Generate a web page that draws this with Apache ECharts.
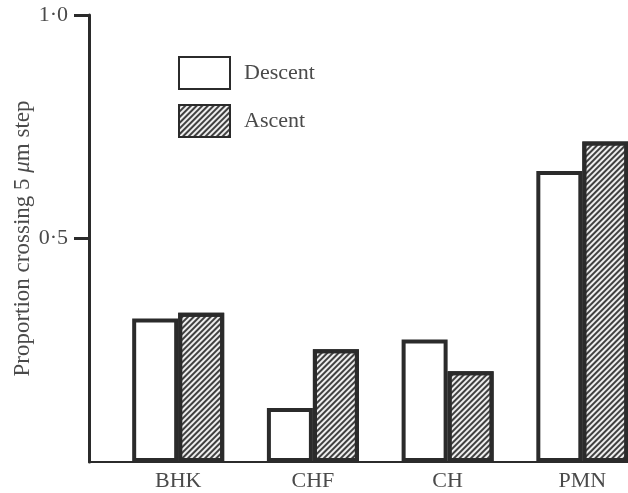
<!DOCTYPE html>
<html>
<head>
<meta charset="utf-8">
<script src="https://cdn.jsdelivr.net/npm/echarts@6/dist/echarts.min.js"></script>
<style>
  html, body { margin: 0; padding: 0; background: #fff; }
  #main { width: 628px; height: 493px; }
</style>
</head>
<body>
<div id="main"></div>
<script>
// cell lines on the x axis
const categories = ["BHK", "CHF", "CH", "PMN"];
// proportion of cells crossing the 5 um step
const descent = [0.321, 0.121, 0.274, 0.651];
const ascent = [0.334, 0.252, 0.203, 0.717];
const yTicks = [0.5, 1.0];

const ink = "#2b2b2b";
const textColor = "#4a4a4a";
const font = "Liberation Serif";

const chart = echarts.init(document.getElementById("main"));

const option = {
  backgroundColor: "#fff",
  animation: false,
  grid: {
    left: 89,
    right: 0,
    top: 15,
    bottom: 31
  },
  legend: {
    data: ["Descent", "Ascent"],
    orient: "vertical",
    left: 173,
    top: 51,
    itemWidth: 51,
    itemHeight: 32,
    itemGap: 14,
    icon: "rect",
    textStyle: {
      color: textColor,
      fontFamily: font,
      fontSize: 22,
      padding: [0, 0, 0, 9]
    }
  },
  xAxis: {
    type: "value",
    min: -0.662,
    max: 3.339,
    splitLine: { show: false },
    axisTick: { show: false },
    axisLine: {
      onZero: false,
      lineStyle: { color: ink, width: 2 }
    },
    axisLabel: {
      customValues: categories.map((c, i) => i),
      formatter: v => categories[Math.round(v)] || "",
      color: textColor,
      fontFamily: font,
      fontSize: 22,
      margin: 8
    }
  },
  yAxis: {
    type: "value",
    min: 0,
    max: 1,
    interval: 0.5,
    name: "{a|Proportion crossing 5 }{i|μ}{a|m step}",
    nameLocation: "middle",
    nameGap: 55,
    nameMoveOverlap: false,
    nameRotate: 90,
    nameTextStyle: {
      rich: {
        a: { color: textColor, fontFamily: font, fontSize: 23 },
        i: { color: textColor, fontFamily: font, fontSize: 23, fontStyle: "italic" }
      }
    },
    splitLine: { show: false },
    axisLine: {
      show: true,
      onZero: false,
      lineStyle: { color: ink, width: 3 }
    },
    axisTick: {
      show: true,
      length: 15,
      customValues: yTicks,
      lineStyle: { color: ink, width: 3 }
    },
    axisLabel: {
      margin: 21,
      customValues: yTicks,
      color: textColor,
      fontFamily: font,
      fontSize: 22,
      formatter: v => v.toFixed(1).replace(".", "·")
    }
  },
  series: [
    {
      name: "Descent",
      type: "bar",
      barWidth: 46,
      barGap: "0%",
      data: descent.map((v, i) => [i, v]),
      itemStyle: {
        color: "#fff",
        borderColor: ink,
        borderWidth: 4
      }
    },
    {
      name: "Ascent",
      type: "bar",
      barWidth: 46,
      barGap: "0%",
      data: ascent.map((v, i) => [i, v]),
      itemStyle: {
        color: "#eeeeee",
        borderColor: ink,
        borderWidth: 4,
        decal: {
          symbol: "rect",
          symbolSize: 1,
          color: "rgba(45,45,45,0.9)",
          dashArrayX: [1, 0],
          dashArrayY: [1.2, 1.9],
          rotation: -Math.PI / 4
        }
      }
    }
  ]
};

option && chart.setOption(option);
</script>
</body>
</html>
